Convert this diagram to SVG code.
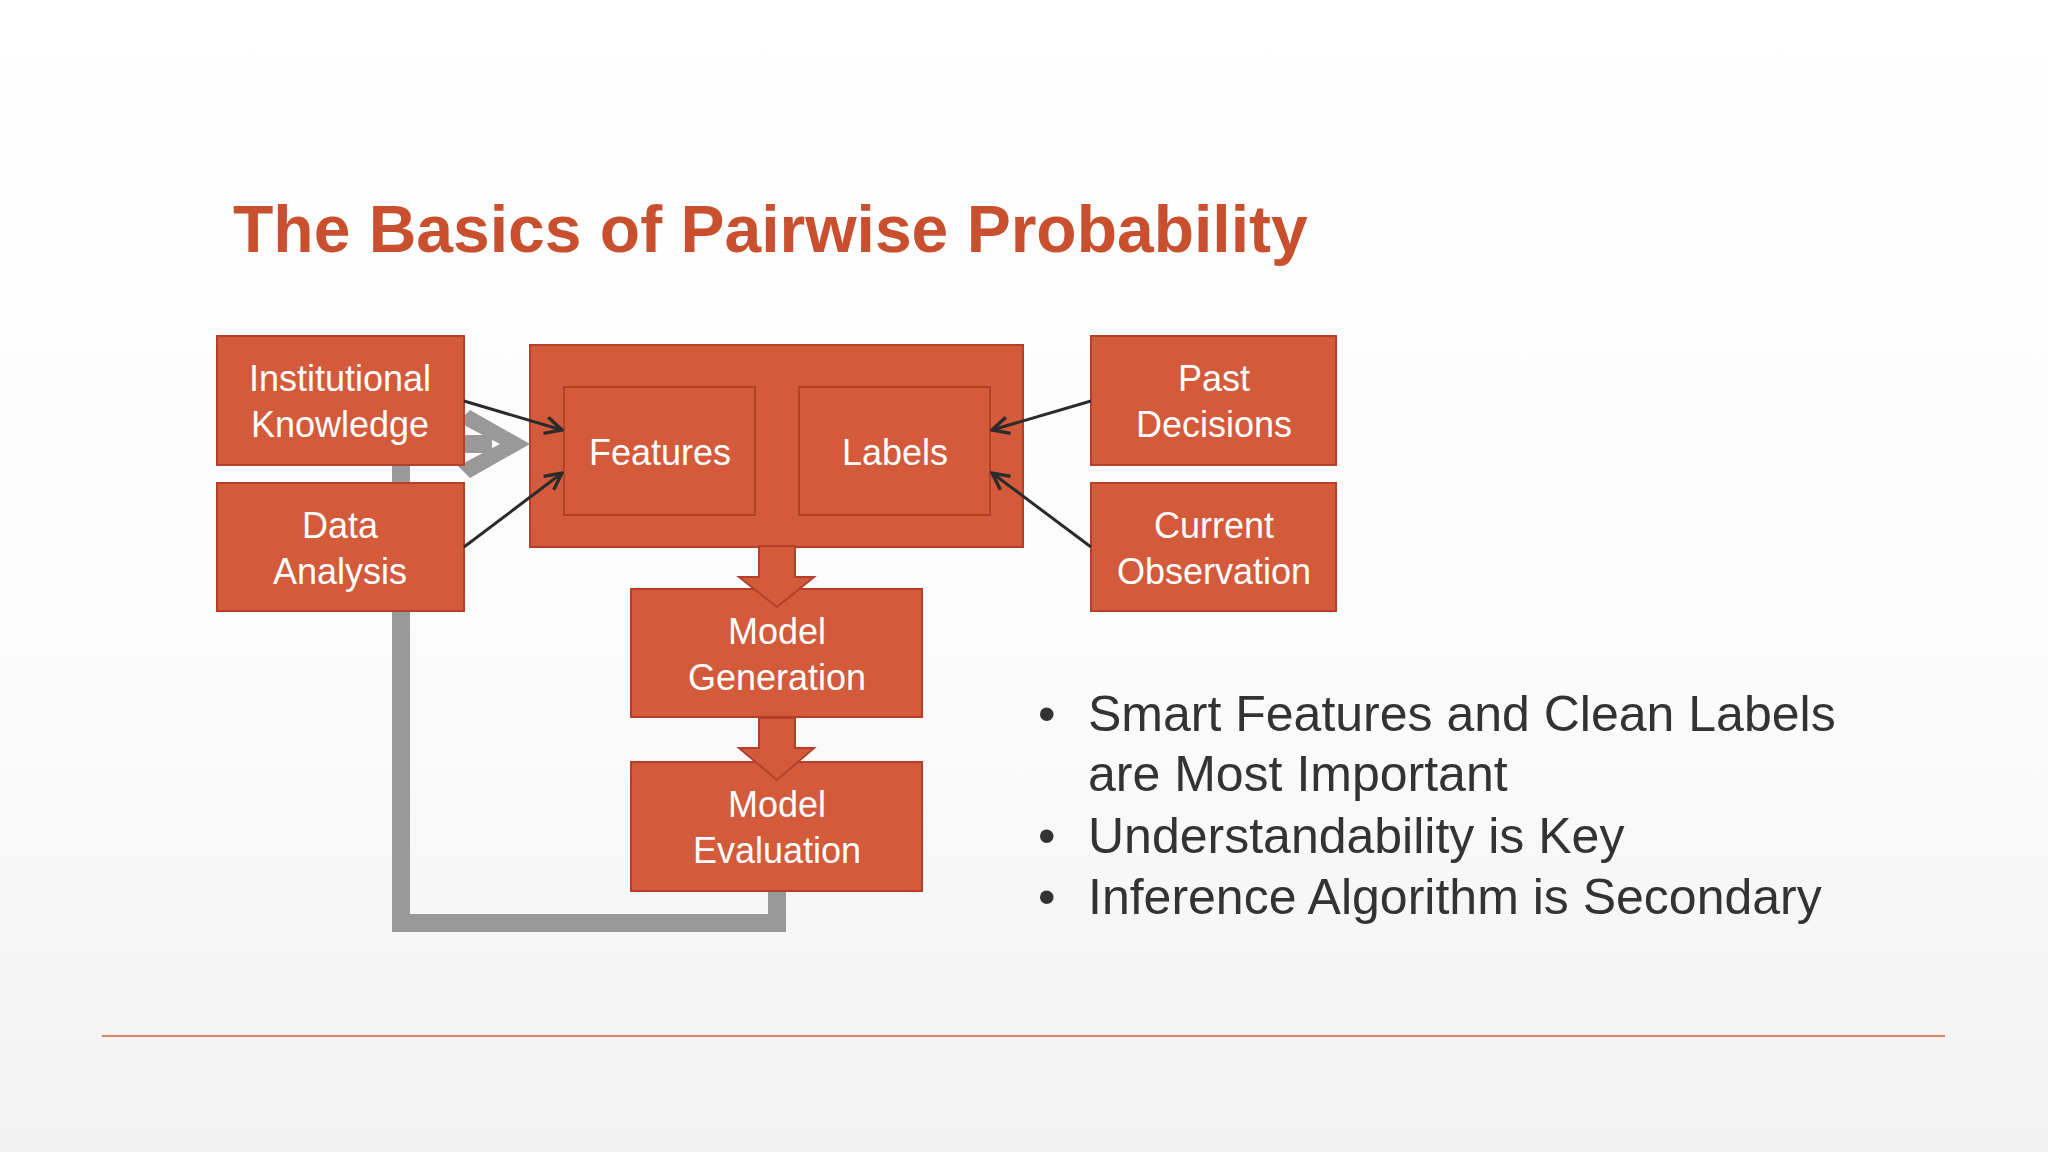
<svg xmlns="http://www.w3.org/2000/svg" width="2048" height="1152" viewBox="0 0 2048 1152">
<defs>
<linearGradient id="bg" x1="0" y1="0" x2="0" y2="1"><stop offset="0" stop-color="#ffffff"/><stop offset="0.6" stop-color="#fbfbfb"/><stop offset="1" stop-color="#f2f2f2"/></linearGradient>
<marker id="ah" viewBox="0 0 10 10" refX="9" refY="5" markerWidth="7" markerHeight="7" orient="auto"><path d="M1,1 L9,5 L1,9" fill="none" stroke="#2b2b2b" stroke-width="1.6"/></marker>
<style>
.box{fill:#D35A3B;stroke:#B5402A;stroke-width:2}
.inner{fill:#D35A3B;stroke:#B5402A;stroke-width:2}
.t{font-family:"Liberation Sans",Arial,sans-serif;font-size:36px;fill:#fff;text-anchor:middle}
.b{font-family:"Liberation Sans",Arial,sans-serif;font-size:50px;fill:#333}
.c{stroke:#2b2b2b;stroke-width:3;fill:none;marker-end:url(#ah)}
</style>
</defs>
<rect width="2048" height="1152" fill="url(#bg)"/>
<text x="233" y="252" font-family="Liberation Sans,Arial,sans-serif" font-weight="bold" font-size="66" fill="#C9502F">The Basics of Pairwise Probability</text>
<g id="loop">
<path d="M777,891 V923 H401 V444 H492" fill="none" stroke="#999" stroke-width="18"/>
<polygon points="470,410 530,444 470,478 458,466 500,444 458,422" fill="#999"/>
</g>
<g id="group-box"><rect class="box" x="530" y="345" width="493" height="202"/></g>
<g id="features"><rect class="inner" x="564" y="387" width="191" height="128"/><text class="t" x="660" y="465">Features</text></g>
<g id="labels"><rect class="inner" x="799" y="387" width="191" height="128"/><text class="t" x="895" y="465">Labels</text></g>
<g id="inst"><rect class="box" x="217" y="336" width="247" height="129"/><text class="t" x="340" y="391">Institutional</text><text class="t" x="340" y="437">Knowledge</text></g>
<g id="data"><rect class="box" x="217" y="483" width="247" height="128"/><text class="t" x="340" y="538">Data</text><text class="t" x="340" y="584">Analysis</text></g>
<g id="past"><rect class="box" x="1091" y="336" width="245" height="129"/><text class="t" x="1214" y="391">Past</text><text class="t" x="1214" y="437">Decisions</text></g>
<g id="current"><rect class="box" x="1091" y="483" width="245" height="128"/><text class="t" x="1214" y="538">Current</text><text class="t" x="1214" y="584">Observation</text></g>
<g id="gen"><rect class="box" x="631" y="589" width="291" height="128"/><text class="t" x="777" y="644">Model</text><text class="t" x="777" y="690">Generation</text></g>
<g id="eval"><rect class="box" x="631" y="762" width="291" height="129"/><text class="t" x="777" y="817">Model</text><text class="t" x="777" y="863">Evaluation</text></g>
<g id="connectors">
<polygon class="box" points="759,546 795,546 795,577 814,577 777,607 739,577 759,577"/>
<polygon class="box" points="759,718 795,718 795,748 814,748 777,780 739,748 759,748"/>
<line class="c" x1="464" y1="401" x2="562" y2="430"/>
<line class="c" x1="464" y1="547" x2="562" y2="473"/>
<line class="c" x1="1091" y1="401" x2="992" y2="430"/>
<line class="c" x1="1091" y1="547" x2="992" y2="473"/>
</g>
<g id="bullets" class="b">
<text class="b" x="1038" y="731">•</text><text class="b" x="1088" y="731">Smart Features and Clean Labels</text>
<text class="b" x="1088" y="791">are Most Important</text>
<text class="b" x="1038" y="853">•</text><text class="b" x="1088" y="853">Understandability is Key</text>
<text class="b" x="1038" y="914">•</text><text class="b" x="1088" y="914">Inference Algorithm is Secondary</text>
</g>
<line x1="102" y1="1036" x2="1945" y2="1036" stroke="#D9583A" stroke-width="1.5"/>
</svg>
